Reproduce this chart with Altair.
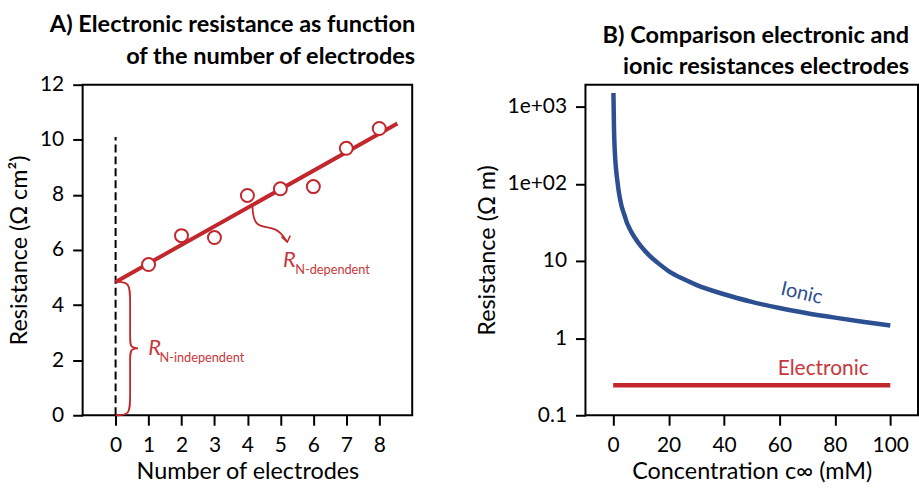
import altair as alt
import pandas as pd

# ---- data: panel A ----
electrodes = [1, 2, 3, 4, 5, 6, 7, 8]
resistance_a = [5.47, 6.52, 6.45, 7.98, 8.22, 8.30, 9.69, 10.41]
fit_x = [0, 8.55]
fit_y = [4.84, 10.59]
dash_x = [0]
dash_y0 = [0]
dash_y1 = [10.1]
brace_x = [0.0, 0.44, 0.44, 0.44, 0.44, 0.8, 0.44, 0.44, 0.44, 0.44, 0.0]
brace_y = [4.84, 4.84, 4.2, 2.75, 2.43, 2.43, 2.43, 2.1, 0.6, 0.0, 0.0]
arrow_x = [4.15, 4.2, 4.9, 5.2]
arrow_y = [7.6, 6.8, 6.85, 6.3]
head_x = [5.03, 5.21, 5.3]
head_y = [6.48, 6.29, 6.52]
lab_R_x = [0.99, 5.08]
lab_R_y = [2.2, 5.38]
lab_sub_x = [1.33, 5.45]
lab_sub_y = [1.95, 5.13]
lab_sub = ["N-independent", "N-dependent"]

# ---- data: panel B ----
conc = [0.1, 0.3, 0.6, 1, 1.5, 2, 3, 4, 5, 6, 8, 10, 13, 16, 20, 25, 30, 40,
        50, 60, 70, 80, 90, 100]
ionic = [1500, 520, 260, 160, 110, 80, 52, 40, 31, 26, 19.5, 15.5, 11.8, 9.5,
         7.4, 5.9, 4.9, 3.7, 2.95, 2.45, 2.1, 1.84, 1.63, 1.46]
elec_x = [0, 100]
elec_y = [0.245, 0.245]

RED = "#c1272d"
RED_TXT = "#c8373c"
BLUE = "#2c4f91"
FONT = "Lato"

W, H = 331, 332

# ---------- Panel A ----------
xa = alt.Scale(domain=[-1, 9], nice=False, zero=False)
ya = alt.Scale(domain=[0, 12], nice=False)

x_axis_a = alt.Axis(values=list(range(0, 9)), title="Number of electrodes", grid=False, domain=False)
y_axis_a = alt.Axis(values=list(range(0, 13, 2)), title="Resistance (Ω cm²)", grid=False, domain=False)

dash_df = pd.DataFrame({"x": dash_x, "y": dash_y0, "y2": dash_y1})
dash = alt.Chart(dash_df).mark_rule(color="black", strokeWidth=2, strokeDash=[8, 4]).encode(
    x=alt.X("x:Q", scale=xa, axis=x_axis_a),
    y=alt.Y("y:Q", scale=ya, axis=y_axis_a),
    y2="y2:Q",
)

fit_df = pd.DataFrame({"x": fit_x, "y": fit_y})
fit = alt.Chart(fit_df).mark_line(color=RED, strokeWidth=4).encode(
    x=alt.X("x:Q", scale=xa), y=alt.Y("y:Q", scale=ya)
)

pts_df = pd.DataFrame({"x": electrodes, "y": resistance_a})
pts = alt.Chart(pts_df).mark_point(
    shape="circle", size=170, filled=False, fill="white", fillOpacity=1,
    color=RED, stroke=RED, strokeWidth=2, opacity=1
).encode(x=alt.X("x:Q", scale=xa), y=alt.Y("y:Q", scale=ya))

brace_df = pd.DataFrame({"x": brace_x, "y": brace_y, "o": list(range(len(brace_x)))})
brace = alt.Chart(brace_df).mark_line(color=RED, strokeWidth=1.8, interpolate="basis").encode(
    x=alt.X("x:Q", scale=xa), y=alt.Y("y:Q", scale=ya), order="o:Q"
)

arrow_df = pd.DataFrame({"x": arrow_x, "y": arrow_y, "o": list(range(len(arrow_x)))})
arrow = alt.Chart(arrow_df).mark_line(color=RED, strokeWidth=1.8, interpolate="basis").encode(
    x=alt.X("x:Q", scale=xa), y=alt.Y("y:Q", scale=ya), order="o:Q"
)

head_df = pd.DataFrame({"x": head_x, "y": head_y, "o": list(range(len(head_x)))})
head = alt.Chart(head_df).mark_line(color=RED, strokeWidth=1.5).encode(
    x=alt.X("x:Q", scale=xa), y=alt.Y("y:Q", scale=ya), order="o:Q"
)

r_df = pd.DataFrame({"x": lab_R_x, "y": lab_R_y, "t": ["R", "R"]})
r_txt = alt.Chart(r_df).mark_text(
    font=FONT, fontSize=22, fontStyle="italic", color=RED_TXT, align="left", baseline="alphabetic"
).encode(x=alt.X("x:Q", scale=xa), y=alt.Y("y:Q", scale=ya), text="t:N")

s_df = pd.DataFrame({"x": lab_sub_x, "y": lab_sub_y, "t": lab_sub})
s_txt = alt.Chart(s_df).mark_text(
    font=FONT, fontSize=12.8, color=RED_TXT, align="left", baseline="alphabetic"
).encode(x=alt.X("x:Q", scale=xa), y=alt.Y("y:Q", scale=ya), text="t:N")

panel_a = alt.layer(dash, fit, brace, arrow, head, pts, r_txt, s_txt).properties(
    width=W, height=H,
    title=alt.TitleParams(
        ["A) Electronic resistance as function", "of the number of electrodes"],
        anchor="end", frame="group", dx=3,
    ),
)

# ---------- Panel B ----------
xb = alt.Scale(domain=[-10, 110], nice=False, zero=False)
yb = alt.Scale(type="log", domain=[0.1, 1923], nice=False)

x_axis_b = alt.Axis(values=[0, 20, 40, 60, 80, 100], title="Concentration c∞ (mM)", grid=False, domain=False)
y_axis_b = alt.Axis(
    values=[0.1, 1, 10, 100, 1000], title="Resistance (Ω m)", grid=False, domain=False,
    labelExpr="datum.value >= 1000 ? '1e+03' : datum.value >= 100 ? '1e+02' : datum.value >= 10 ? '10' : datum.value >= 1 ? '1' : '0.1'",
)

ion_df = pd.DataFrame({"c": conc, "r": ionic})
ion = alt.Chart(ion_df).mark_line(color=BLUE, strokeWidth=4.5, interpolate="monotone").encode(
    x=alt.X("c:Q", scale=xb, axis=x_axis_b),
    y=alt.Y("r:Q", scale=yb, axis=y_axis_b),
)

el_df = pd.DataFrame({"c": elec_x, "r": elec_y})
el = alt.Chart(el_df).mark_line(color=RED, strokeWidth=4.5).encode(
    x=alt.X("c:Q", scale=xb), y=alt.Y("r:Q", scale=yb)
)

lab_b_df = pd.DataFrame({"c": [68.0], "r": [3.8], "t": ["Ionic"]})
lab_ion = alt.Chart(lab_b_df).mark_text(
    font=FONT, fontSize=20, color=BLUE, angle=13, align="center", baseline="middle"
).encode(x=alt.X("c:Q", scale=xb), y=alt.Y("r:Q", scale=yb), text="t:N")

lab_e_df = pd.DataFrame({"c": [75.8], "r": [0.33], "t": ["Electronic"]})
lab_el = alt.Chart(lab_e_df).mark_text(
    font=FONT, fontSize=21, color=RED_TXT, align="center", baseline="alphabetic"
).encode(x=alt.X("c:Q", scale=xb), y=alt.Y("r:Q", scale=yb), text="t:N")

panel_b = alt.layer(ion, el, lab_ion, lab_el).properties(
    width=334, height=H,
    title=alt.TitleParams(
        ["B) Comparison electronic and", "ionic resistances electrodes"],
        anchor="end", frame="group", dx=-9,
    ),
)

chart = alt.hconcat(panel_a, panel_b, spacing=58).properties(
    padding={"left": 6, "top": 11, "right": 0, "bottom": 0}
).configure_view(
    stroke="black", strokeWidth=2
).configure_axis(
    labelFont=FONT, titleFont=FONT, labelFontSize=21, titleFontSize=23.5,
    titleFontWeight="normal", labelColor="black", titleColor="black",
    tickColor="black", tickWidth=2, tickSize=10, labelPadding=9, titlePadding=8,
).configure_axisX(titlePadding=5, labelPadding=9).configure_title(
    font=FONT, fontSize=23.6, fontWeight="bold", color="black", lineHeight=32, offset=5
)

chart.save("out.html", embed_options={"renderer": "svg", "actions": False})
